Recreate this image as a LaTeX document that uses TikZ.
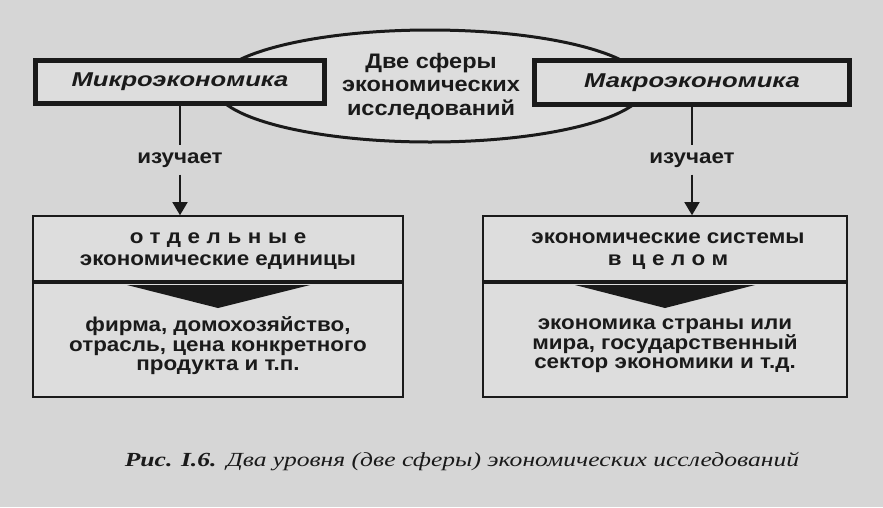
\documentclass[tikz,border=0pt]{standalone}
\usepackage{fontspec}
\setmainfont{Liberation Serif}
\newfontfamily\dsans[FakeStretch=1.12]{Liberation Sans}
\newfontfamily\dhead[FakeStretch=1.28]{Liberation Sans}
\newfontfamily\dserif[FakeStretch=1.28]{Liberation Serif}
\usetikzlibrary{shapes.geometric,arrows.meta}
\definecolor{bg}{RGB}{214,214,214}
\definecolor{paper}{RGB}{221,221,221}
\definecolor{ink}{RGB}{26,26,26}
\begin{document}
\begin{tikzpicture}[x=1pt,y=-1pt,
  every node/.style={text=ink},
  headbox/.style={draw=ink, fill=paper, line width=5pt, inner sep=0pt,
    font=\dhead\bfseries\itshape\fontsize{20}{22}\selectfont},
  sphere/.style={ellipse, draw=ink, fill=paper, line width=3pt, inner sep=0pt,
    minimum width=431pt, minimum height=112pt},
  spheretext/.style={align=center, inner sep=0pt,
    font=\dsans\bfseries\fontsize{21}{23.5}\selectfont},
  studies/.style={inner xsep=3pt, inner ysep=7pt,
    font=\dsans\bfseries\fontsize{20}{20}\selectfont},
  conn/.style={draw=ink, line width=1.5pt},
  arr/.style={conn, -{Triangle[width=15pt,length=13pt]}},
  partbox/.style={draw=ink, fill=paper, line width=1.6pt, inner sep=0pt},
  parttext/.style={align=center, inner sep=0pt,
    font=\dsans\bfseries\fontsize{20}{19.5}\selectfont},
  uppertext/.style={parttext, font=\dsans\bfseries\fontsize{20}{22}\selectfont},
  wedge/.style={fill=ink},
  caption/.style={font=\dserif\itshape\fontsize{20}{22}\selectfont}
]
\fill[bg] (0,0) rectangle (883,507);
\useasboundingbox (0,0) rectangle (883,507);

% central ellipse
\node[sphere] (sph) at (430,86) {};
\node[spheretext] (spht) at (431,86) {Две сферы\\экономических\\исследований};

% heading boxes
\node[headbox, minimum width=289pt, minimum height=43pt] (micro) at (180,82) {Микроэкономика};
\node[headbox, minimum width=315pt, minimum height=44pt] (macro) at (692,82.5) {Макроэкономика};

% bottom boxes
\node[partbox, minimum width=370pt, minimum height=65pt] (lu) at (218,248.5) {};
\node[partbox, minimum width=370pt, minimum height=114pt] (ll) at (218,340) {};
\node[partbox, minimum width=364pt, minimum height=65pt] (ru) at (665,248.5) {};
\node[partbox, minimum width=364pt, minimum height=114pt] (rl) at (665,340) {};

\node[uppertext] (lut) at (218,251)
  {{\addfontfeatures{LetterSpace=33}отдельные}\\экономические единицы};
\node[parttext] (llt) at (218,346)
  {фирма, домохозяйство,\\отрасль, цена конкретного\\продукта и т.п.};
\node[uppertext] (rut) at (668,251)
  {экономические системы\\в\hspace{10pt}{\addfontfeatures{LetterSpace=33}целом}};
\node[parttext] (rlt) at (665,346)
  {экономика страны или\\мира, государственный\\сектор экономики и т.д.};

% wedges under the dividers
\fill[wedge] (127,285) -- (310,285) -- (218,308) -- cycle;
\fill[wedge] (575,285) -- (755,285) -- (665,308) -- cycle;

% studies labels and arrows
\node[studies] (izl) at (180,160) {изучает};
\node[studies] (izr) at (692,160) {изучает};
\draw[conn] (micro.south) -- (izl.north);
\draw[arr] (izl.south) -- (izl.south |- lu.north);
\draw[conn] (macro.south) -- (izr.north);
\draw[arr] (izr.south) -- (izr.south |- ru.north);

% caption
\node[caption] (cap) at (462,462) {\bfseries Рис. I.6.\enspace\mdseries Два уровня (две сферы) экономических исследований};
\end{tikzpicture}
\end{document}
